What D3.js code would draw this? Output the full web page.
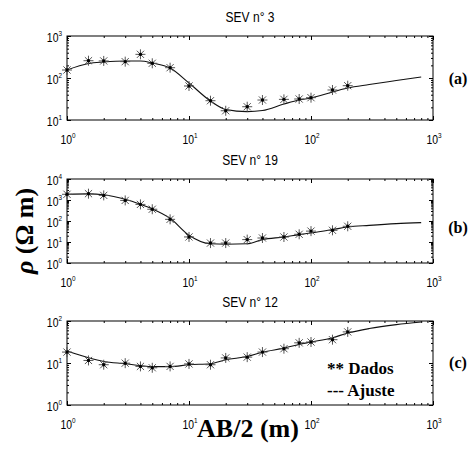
<!DOCTYPE html>
<html>
<head>
<meta charset="utf-8">
<script src="https://cdn.jsdelivr.net/npm/d3@7"></script>
<style>
  body { margin: 0; background: #fff; }
  .tick-label { font-family: "Liberation Sans", Arial, sans-serif; font-size: 13px; }
  .title { font-family: "Liberation Sans", Arial, sans-serif; font-size: 14px; }
  .serif { font-family: "Liberation Serif", "Times New Roman", "DejaVu Serif", serif; font-weight: bold; }
</style>
</head>
<body>
<svg id="svg_sev" width="469" height="449"></svg>
<script>
// Vertical electrical soundings: apparent resistivity vs AB/2

// AB/2 of the field measurements (m)
const abData = [1, 1.5, 2, 3, 4, 5, 7, 10, 15, 20, 30, 40, 60, 80, 100, 150, 200];
// measured apparent resistivity (ohm m)
const rhoDataA = [155, 258, 255, 245, 366, 224, 176, 64.5, 28.8, 16.6, 20.7, 29.9, 31, 31.6, 34, 51.8, 65.6];
const rhoDataB = [1870, 2000, 1660, 955, 617, 363, 120, 17.4, 8.9, 8.9, 13, 15.5, 17.3, 23.3, 33, 36, 56];
const rhoDataC = [18.2, 11.5, 9.1, 9.9, 8.3, 7.7, 8.3, 9.5, 9.1, 13.2, 13.8, 18.2, 21.9, 30.2, 31.6, 35.9, 55];

// AB/2 of the fitted model curve (m)
const abFit = [1, 1.5, 2, 3, 4, 5, 7, 10, 15, 20, 30, 40, 60, 80, 100, 150, 200, 300, 500, 800];
const rhoFitA = [155, 221, 240, 254, 254, 228, 173, 76, 28.3, 17.8, 15.8, 16.8, 24, 30, 33.5, 46.4, 58, 70, 87, 106];
const rhoFitB = [1870, 1950, 1770, 1080, 624, 380, 135, 21, 8.2, 7.8, 8.2, 13, 17.3, 22.5, 26.8, 39, 51.8, 62, 75, 84];
const rhoFitC = [19.2, 13.3, 10.9, 9.6, 8.7, 8.2, 8.2, 9.1, 9.6, 11.9, 14.3, 18.1, 22.6, 27.7, 31.5, 40, 51.6, 66, 82, 94.6];

const panelTitles = ['SEV n\u00b0 3', 'SEV n\u00b0 19', 'SEV n\u00b0 12'];
const panelTags = ['(a)', '(b)', '(c)'];
const yDomains = [[10, 1000], [1, 10000], [1, 100]];
const xDomain = [1, 1000];
const legendLabels = ['** Dados', '--- Ajuste'];

const svg = d3.select('#svg_sev');

/* Layout */
const left = 67, right = 433, plotH = 84;
const panelTops = [36, 179, 321];
const tagOffsets = [48, 54, 47];
const narrow = 0.8; // squeeze for the condensed MATLAB font

const panels = [
    { data: rhoDataA, fit: rhoFitA },
    { data: rhoDataB, fit: rhoFitB },
    { data: rhoDataC, fit: rhoFitC }
];

const xScale = d3.scaleLog().domain(xDomain).range([left, right]);

function decades(dom) {
    let out = [];
    for (let e = Math.round(Math.log10(dom[0])); e <= Math.round(Math.log10(dom[1])); e++) out.push(e);
    return out;
}

function minorTicks(dom) {
    let out = [];
    let ex = decades(dom);
    ex.slice(0, -1).forEach(e => {
        for (let k = 2; k <= 9; k++) out.push(k * Math.pow(10, e));
    });
    return out;
}

function powLabel(g, x, y, exp, anchor) {
    let t = g.append('text')
             .attr('class', 'tick-label')
             .attr('transform', `translate(${x}, ${y}) scale(${narrow}, 1)`)
             .attr('text-anchor', anchor);
    t.append('tspan').text('10');
    t.append('tspan').attr('dy', -6).attr('font-size', '8px').text(exp);
}

function drawAxes(g, y, top) {
    const bottom = top + plotH;
    const xMaj = decades(xDomain).map(e => Math.pow(10, e));
    const xMin = minorTicks(xDomain);
    const yMaj = decades(y.domain()).map(e => Math.pow(10, e));
    const yMin = minorTicks(y.domain());

    const axes = [
        [d3.axisBottom, xScale, `translate(0, ${bottom})`],
        [d3.axisTop, xScale, `translate(0, ${top})`],
        [d3.axisLeft, y, `translate(${left}, 0)`],
        [d3.axisRight, y, `translate(${right}, 0)`]
    ];

    axes.forEach(([axisFn, sc, tr], i) => {
        let isX = i < 2;
        g.append('g')
         .attr('transform', tr)
         .call(axisFn(sc).tickValues(isX ? xMaj : yMaj).tickSize(-4).tickFormat(''))
         .call(a => a.select('.domain').remove());
        g.append('g')
         .attr('transform', tr)
         .call(axisFn(sc).tickValues(isX ? xMin : yMin).tickSize(-2).tickFormat(''))
         .call(a => a.select('.domain').remove());
    });

    g.selectAll('.tick line').attr('stroke', '#000').attr('stroke-width', 1);

    // Box
    g.append('rect')
     .attr('x', left)
     .attr('y', top)
     .attr('width', right - left)
     .attr('height', plotH)
     .attr('fill', 'none')
     .attr('stroke', '#000')
     .attr('stroke-width', 1);

    // Tick labels
    decades(xDomain).forEach(e => powLabel(g, xScale(Math.pow(10, e)) + 1, bottom + 24, e, 'middle'));
    decades(y.domain()).forEach(e => powLabel(g, left - 5, y(Math.pow(10, e)) + 6, e, 'end'));
}

function drawStar(g, cx, cy) {
    const r = 5, d = r * 0.72;
    g.append('path')
     .attr('d', `M${cx},${cy - r}V${cy + r}M${cx - r},${cy}H${cx + r}` +
                `M${cx - d},${cy - d}L${cx + d},${cy + d}M${cx - d},${cy + d}L${cx + d},${cy - d}`)
     .attr('stroke', '#555')
     .attr('stroke-width', 1)
     .attr('fill', 'none');
    g.append('circle')
     .attr('cx', cx)
     .attr('cy', cy)
     .attr('r', 1.7)
     .attr('fill', '#000');
}

panels.forEach((p, i) => {
    const top = panelTops[i];
    const y = d3.scaleLog().domain(yDomains[i]).range([top + plotH, top]);
    const g = svg.append('g');

    drawAxes(g, y, top);

    // Fitted curve
    const fitPts = abFit.map((a, k) => [a, p.fit[k]]);
    g.append('path')
     .datum(fitPts)
     .attr('fill', 'none')
     .attr('stroke', '#111')
     .attr('stroke-width', 1.1)
     .attr('d', d3.line()
                  .x(d => xScale(d[0]))
                  .y(d => y(d[1]))
                  .curve(d3.curveMonotoneX));

    // Measured data
    abData.forEach((a, k) => drawStar(g, xScale(a), y(p.data[k])));

    // Title
    g.append('text')
     .attr('class', 'title')
     .attr('transform', `translate(${(left + right) / 2}, ${top - 14.5}) scale(0.86, 1)`)
     .attr('text-anchor', 'middle')
     .text(panelTitles[i]);

    // Panel tag
    g.append('text')
     .attr('class', 'serif')
     .attr('x', 458)
     .attr('y', top + tagOffsets[i])
     .attr('text-anchor', 'middle')
     .attr('font-size', '16px')
     .text(panelTags[i]);
});

/* Legend */
legendLabels.forEach((l, i) => {
    svg.append('text')
       .attr('class', 'serif')
       .attr('x', 327)
       .attr('y', 374 + i * 22)
       .attr('font-size', '17px')
       .text(l);
});

/* Axis titles */
svg.append('text')
   .attr('class', 'serif')
   .attr('x', 248)
   .attr('y', 437)
   .attr('text-anchor', 'middle')
   .attr('font-size', '26px')
   .text('AB/2 (m)');

let yLab = svg.append('text')
   .attr('class', 'serif')
   .attr('transform', 'translate(33, 231) rotate(-90)')
   .attr('text-anchor', 'middle')
   .attr('font-size', '26px');
yLab.append('tspan').attr('font-style', 'italic').text('\u03c1');
yLab.append('tspan').text(' (\u03a9 m)');
</script>
</body>
</html>
